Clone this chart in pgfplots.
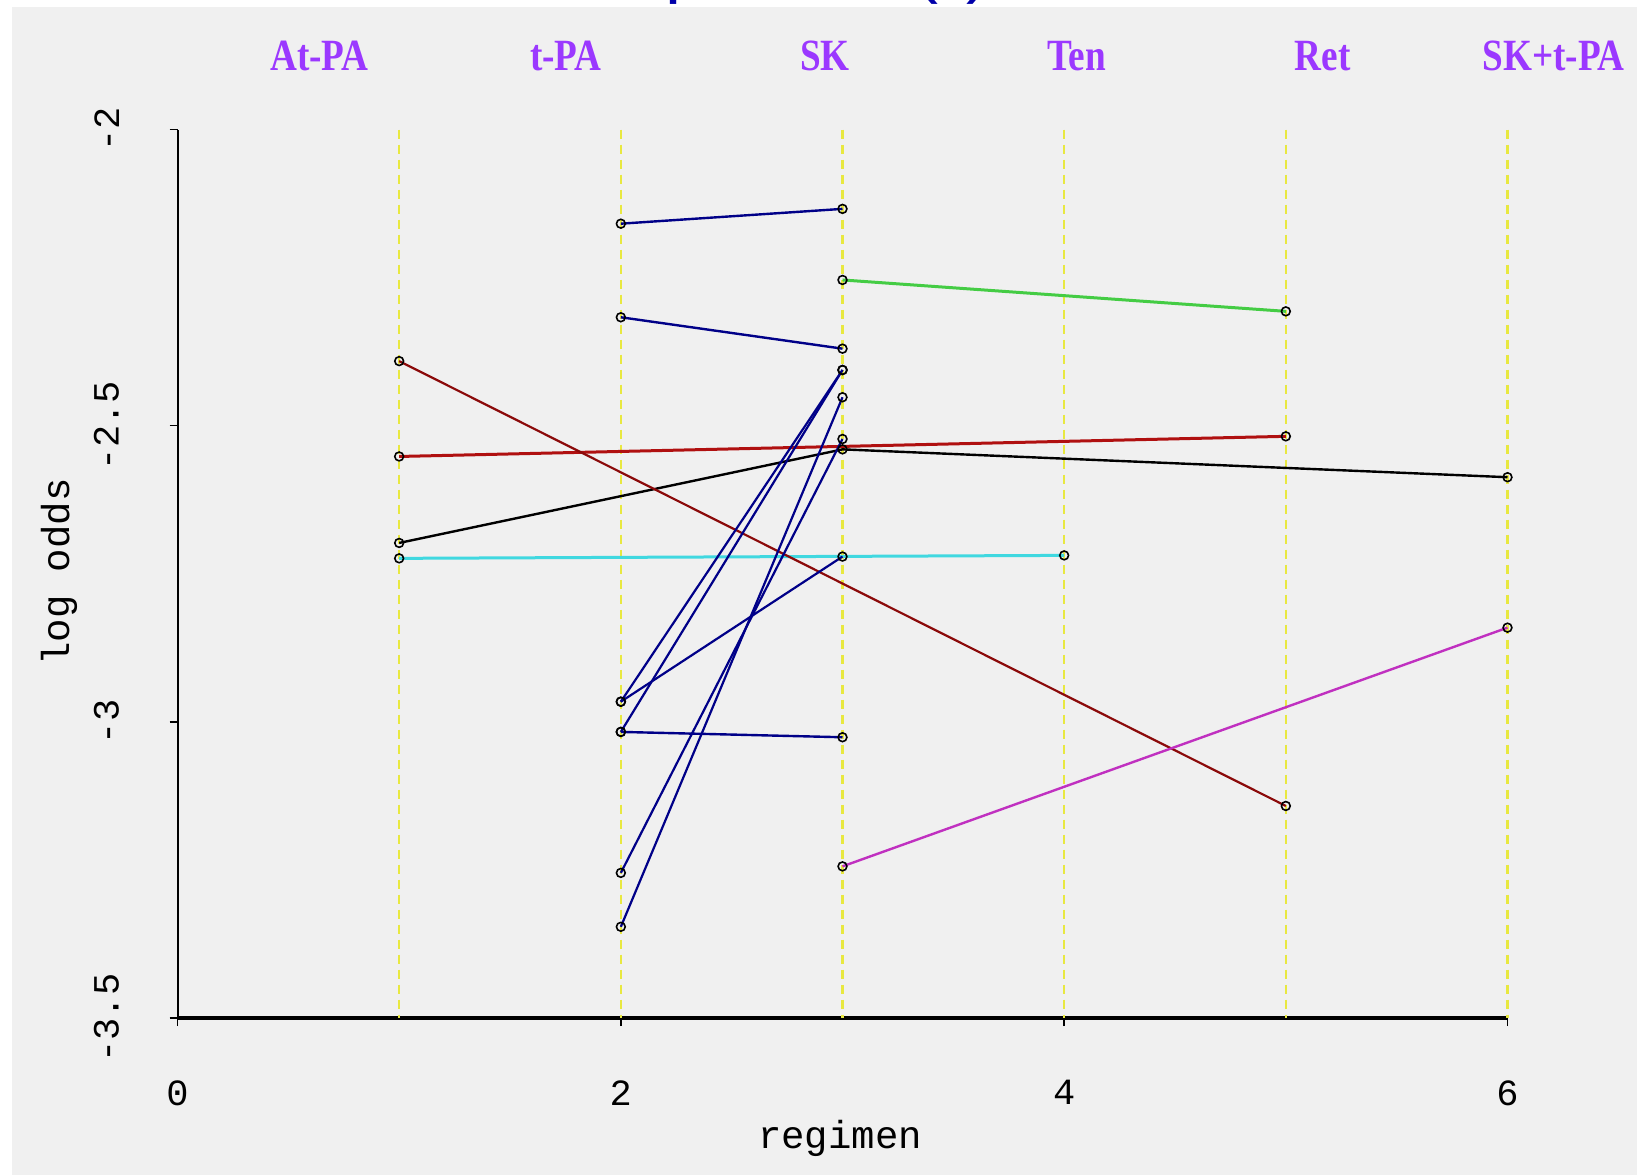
\documentclass[border=0pt]{standalone}
\usepackage{pgfplots}
\pgfplotsset{compat=1.18}
\usepackage{fontspec}
\setmainfont{Liberation Serif}
\setsansfont{Liberation Sans}
\setmonofont{Liberation Mono}
\definecolor{bg}{HTML}{F0F0F0}
\definecolor{navy}{HTML}{000088}
\definecolor{yel}{HTML}{E8E840}
\definecolor{lab}{HTML}{9B38FF}
\definecolor{ttl}{HTML}{0000AA}
\definecolor{grn}{HTML}{44CC44}
\definecolor{rd}{HTML}{B01010}
\definecolor{drd}{HTML}{8B0A0A}
\definecolor{cy}{HTML}{40D8E0}
\definecolor{mag}{HTML}{C030C0}
\pgfplotsset{
  ser/.style={mark=o, mark size=2.2pt, mark options={black, solid, line width=0.8pt}},
  vline/.style={yel, line width=1.3pt, dash pattern=on 4.5pt off 3pt, forget plot},
}
\begin{document}
\begin{tikzpicture}
\clip (0,0) rectangle (818.5pt,587.5pt);
\fill[white] (0,0) rectangle (818.5pt,587.5pt);
\fill[bg] (5.75pt,0) rectangle (818.5pt,584pt);
% cut-off title fragments
\node[anchor=base west, inner sep=0pt, text=ttl, font=\sffamily\fontsize{36}{36}\selectfont] at (332.5pt,592.5pt) {p};
\node[anchor=base west, inner sep=0pt, text=ttl, font=\sffamily\fontsize{36}{36}\selectfont] at (457pt,592.5pt) {(};
\node[anchor=base west, inner sep=0pt, text=ttl, font=\sffamily\fontsize{36}{36}\selectfont] at (483pt,592.5pt) {)};
\begin{axis}[
  at={(88.75pt,78.5pt)}, anchor=south west,
  scale only axis, width=665pt, height=444.25pt,
  xmin=0, xmax=6, ymin=-3.5, ymax=-2,
  axis x line*=bottom, axis y line*=left,
  x axis line style={line width=1.8pt,-},
  y axis line style={line width=1pt,-},
  xtick={0,2,4,6}, xticklabels={0,2,4,6},
  ytick={-3.5,-3,-2.5,-2}, yticklabels={-3.5,-3,-2.5,-2},
  tick align=outside, major tick length=4pt,
  tick style={black, line width=0.7pt},
  ticklabel style={font=\ttfamily\fontsize{18.5}{18.5}\selectfont, inner sep=0pt},
  yticklabel style={rotate=90, anchor=south},
  xticklabel style={anchor=north},
  yticklabel shift=25pt, xticklabel shift=27pt,
  clip=false,
]
\addplot[vline] coordinates {(1,-2) (1,-3.5)};
\addplot[vline] coordinates {(2,-2) (2,-3.5)};
\addplot[vline] coordinates {(3,-2) (3,-3.5)};
\addplot[vline] coordinates {(4,-2) (4,-3.5)};
\addplot[vline] coordinates {(5,-2) (5,-3.5)};
\addplot[vline] coordinates {(6,-2) (6,-3.5)};
% other regimens
\addplot[ser, cy, line width=1.5pt] coordinates {(1,-2.724) (4,-2.719)};
\addplot[ser, black, line width=1.2pt] coordinates {(1,-2.698) (3,-2.540) (6,-2.587)};
\addplot[ser, rd, line width=1.5pt] coordinates {(1,-2.552) (5,-2.518)};
\addplot[ser, drd, line width=1.1pt] coordinates {(1,-2.391) (5,-3.142)};
\addplot[ser, grn, line width=1.5pt] coordinates {(3,-2.254) (5,-2.307)};
\addplot[ser, mag, line width=1.2pt] coordinates {(3,-3.244) (6,-2.841)};
% t-PA vs SK
\addplot[ser, navy, line width=1.2pt] coordinates {(2,-2.159) (3,-2.134)};
\addplot[ser, navy, line width=1.2pt] coordinates {(2,-2.317) (3,-2.370)};
\addplot[ser, navy, line width=1.2pt] coordinates {(2,-3.017) (3,-3.026)};
\addplot[ser, navy, line width=1.1pt] coordinates {(2,-2.966) (3,-2.721)};
\addplot[ser, navy, line width=1.1pt] coordinates {(2,-2.966) (3,-2.406)};
\addplot[ser, navy, line width=1.1pt] coordinates {(2,-3.017) (3,-2.406)};
\addplot[ser, navy, line width=1.1pt] coordinates {(2,-3.255) (3,-2.5225)};
\addplot[ser, navy, line width=1.1pt] coordinates {(2,-3.346) (3,-2.452)};
\end{axis}
% regimen names
\foreach \x/\t in {159.7/At-PA, 282.9/t-PA, 412.4/SK, 538.2/Ten, 661.4/Ret, 776.8/SK+t-PA}
  \node[anchor=base, inner sep=0pt, text=lab, font=\bfseries\fontsize{18.6}{18.6}\selectfont] at (\x pt,552pt) {\scalebox{1}[1.2]{\t}};
% axis titles
\node[inner sep=0pt, font=\ttfamily\fontsize{19.5}{19.5}\selectfont] at (420pt,18.5pt) {regimen};
\node[inner sep=0pt, rotate=90, font=\ttfamily\fontsize{19.5}{19.5}\selectfont] at (29.5pt,301.5pt) {log odds};
\end{tikzpicture}
\end{document}
